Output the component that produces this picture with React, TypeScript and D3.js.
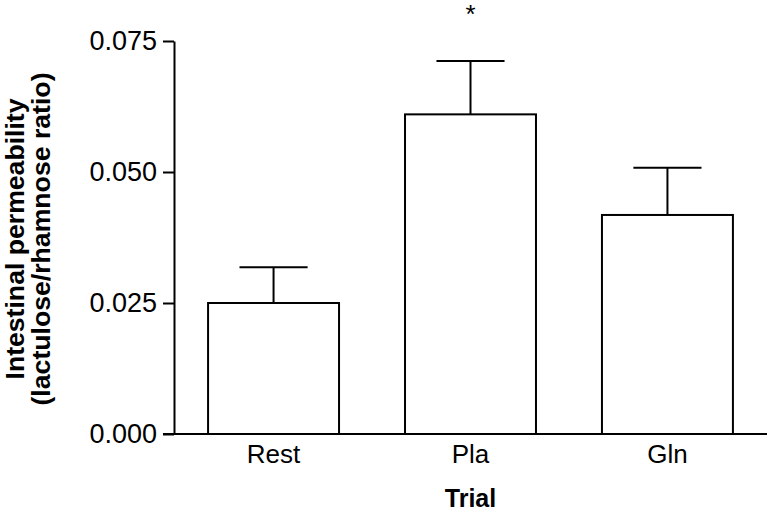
import React, { useEffect, useRef } from "react";
import * as d3 from "d3";

const trials = ["Rest", "Pla", "Gln"];
const means = [0.025, 0.061, 0.0418];
const sems = [0.0068, 0.0102, 0.009];
const yTicks = [0, 0.025, 0.05, 0.075];
const marks = ["", "*", ""];

const width = 767;
const height = 512;
const font = "'Liberation Sans', Arial, sans-serif";

const App = () => {
    const ref = useRef<SVGSVGElement | null>(null);

    useEffect(() => {
        const svg = d3.select(ref.current);
        svg.selectAll("*").remove();

        const x = d3
            .scaleBand()
            .domain(trials)
            .range([174, 767])
            .paddingInner(0.335)
            .paddingOuter(0.173);
        const y = d3.scaleLinear().domain([0, 0.075]).range([434, 41]);

        const rows = trials.map((t, i) => ({ t, m: means[i], e: sems[i], mark: marks[i] }));

        // bars
        svg.selectAll("rect.bar")
            .data(rows)
            .join("rect")
            .attr("class", "bar")
            .attr("x", (d) => x(d.t)!)
            .attr("y", (d) => y(d.m))
            .attr("width", x.bandwidth())
            .attr("height", (d) => y(0) - y(d.m))
            .attr("fill", "white")
            .attr("stroke", "black")
            .attr("stroke-width", 2);

        // error bars (upper only)
        const err = svg.selectAll("g.err").data(rows).join("g").attr("class", "err");
        err.append("line")
            .attr("x1", (d) => x(d.t)! + x.bandwidth() / 2)
            .attr("x2", (d) => x(d.t)! + x.bandwidth() / 2)
            .attr("y1", (d) => y(d.m))
            .attr("y2", (d) => y(d.m + d.e))
            .attr("stroke", "black")
            .attr("stroke-width", 2);
        err.append("line")
            .attr("x1", (d) => x(d.t)! + x.bandwidth() * 0.24)
            .attr("x2", (d) => x(d.t)! + x.bandwidth() * 0.76)
            .attr("y1", (d) => y(d.m + d.e))
            .attr("y2", (d) => y(d.m + d.e))
            .attr("stroke", "black")
            .attr("stroke-width", 2);

        // significance marks
        svg.selectAll("text.mark")
            .data(rows)
            .join("text")
            .attr("class", "mark")
            .attr("x", (d) => x(d.t)! + x.bandwidth() / 2)
            .attr("y", 23)
            .attr("text-anchor", "middle")
            .style("font", `26px ${font}`)
            .text((d) => d.mark);

        // y axis
        const yAxis = svg
            .append("g")
            .attr("transform", "translate(174,0)")
            .call(
                d3.axisLeft(y)
                    .tickValues(yTicks)
                    .tickFormat(d3.format(".3f"))
                    .tickSize(11)
                    .tickSizeOuter(0)
                    .tickPadding(6)
            );
        yAxis.select(".domain").attr("stroke-width", 2);
        yAxis.selectAll(".tick line").attr("stroke-width", 2);
        yAxis.selectAll(".tick text").style("font", `27px ${font}`).attr("fill", "black");

        // x axis
        const xAxis = svg
            .append("g")
            .attr("transform", "translate(0,434)")
            .call(d3.axisBottom(x).tickSize(0).tickPadding(11));
        xAxis.select(".domain").attr("d", "M163,0H767").attr("stroke-width", 2);
        xAxis.selectAll(".tick text").style("font", `26px ${font}`).attr("fill", "black");

        // axis titles
        svg.append("text")
            .attr("x", x("Pla")! + x.bandwidth() / 2)
            .attr("y", 507)
            .attr("text-anchor", "middle")
            .style("font", `bold 25px ${font}`)
            .text("Trial");

        const yTitle = svg
            .append("text")
            .attr("transform", "translate(0,239) rotate(-90)")
            .attr("text-anchor", "middle")
            .style("font", `bold 26px ${font}`);
        yTitle.append("tspan")
            .attr("x", 0)
            .attr("y", 24)
            .attr("textLength", 281)
            .attr("lengthAdjust", "spacingAndGlyphs")
            .text("Intestinal permeability");
        yTitle.append("tspan")
            .attr("x", 0)
            .attr("y", 50)
            .attr("textLength", 333)
            .attr("lengthAdjust", "spacingAndGlyphs")
            .text("(lactulose/rhamnose ratio)");
    });

    return (
        <svg
            ref={ref}
            width={width}
            height={height}
            style={{ position: "absolute", left: 0, top: 0, background: "white" }}
        />
    );
};

export default App;
